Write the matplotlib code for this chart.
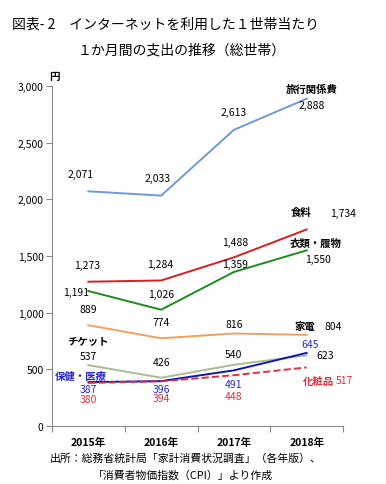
import matplotlib
matplotlib.use('Agg')
import matplotlib.pyplot as plt

plt.rcParams['font.family'] = ['Noto Sans CJK JP', 'DejaVu Sans']

years = ['2015年', '2016年', '2017年', '2018年']
travel = [2071, 2033, 2613, 2888]
food = [1273, 1284, 1488, 1734]
clothes = [1191, 1026, 1359, 1550]
appliance = [889, 774, 816, 804]
ticket = [537, 426, 540, 623]
health = [387, 396, 491, 645]
cosmetics = [380, 394, 448, 517]

# (values, colour, linestyle, label offsets in px for each point, label colour)
series = [
    (travel, '#6f98dc', '-', [(-8, 17), (-4, 18), (0, 18), (5, -6)], 'black'),
    (food, '#d42020', '-', [(-1, 17), (-1, 16), (1, 15), None], 'black'),
    (clothes, '#1f8a1f', '-', [(-12, -1), (0, 16), (1, 8), (11, -9)], 'black'),
    (appliance, '#f0a060', '-', [(0, 16), (0, 16), (0, 10), None], 'black'),
    (ticket, '#a9bc94', '-', [(0, 9), (0, 16), (0, 11), (18, 0)], 'black'),
    (health, '#1414b4', '-', [(0, -7), (0, -8), (0, -14), (3, 9)], '#2828c8'),
    (cosmetics, '#e03040', '--', [(0, -16), (0, -17), (0, -21), None], '#e03040'),
]

fig = plt.figure(figsize=(3.86, 4.85), dpi=100)
ax = fig.add_axes([0.1347, 0.1196, 0.754, 0.701])

x = range(len(years))
for vals, col, ls, offs, tcol in series:
    ax.plot(x, vals, color=col, ls=ls, lw=1.4)
    for i, v in enumerate(vals):
        if offs[i] is None:
            continue
        ax.annotate(f'{v:,}', (i, v), xytext=offs[i], textcoords='offset pixels',
                    ha='center', va='center', fontsize=7.5, color=tcol)

# series names / end labels
def name(i, v, dx, dy, s, col='black', ha='center'):
    ax.annotate(s, (i, v), xytext=(dx, dy), textcoords='offset pixels',
                ha=ha, va='center', fontsize=7.5, color=col, fontweight='bold')

name(3, travel[3], 5, 10, '旅行関係費')
name(3, food[3], -6, 18, '食料')
ax.annotate(f'{food[3]:,}', (3, food[3]), xytext=(36, 16), textcoords='offset pixels',
            ha='center', va='center', fontsize=7.5)
name(3, clothes[3], 9, 7, '衣類・履物')
name(3, appliance[3], -2, 9, '家電')
ax.annotate(f'{appliance[3]:,}', (3, appliance[3]), xytext=(27, 9), textcoords='offset pixels',
            ha='center', va='center', fontsize=7.5)
name(0, ticket[0], 0, 24, 'チケット')
name(0, health[0], -8, 6, '保健・医療', col='#2828c8')
name(3, cosmetics[3], 12, -13, '化粧品', col='#e03040')
ax.annotate(f'{cosmetics[3]:,}', (3, cosmetics[3]), xytext=(38, -13), textcoords='offset pixels',
            ha='center', va='center', fontsize=7.5, color='#e03040')

ax.set_xlim(-0.5, 3.5)
ax.set_ylim(0, 3000)
ax.set_yticks(range(0, 3001, 500))
ax.set_yticklabels([f'{t:,}' for t in range(0, 3001, 500)], fontsize=7.5)
ax.set_xticks([-0.5, 0.5, 1.5, 2.5, 3.5])
ax.set_xticklabels([])
ax.set_xticks(list(x), minor=True)
ax.set_xticklabels(years, minor=True, fontsize=7.5, fontweight='bold')
ax.tick_params(axis='x', which='minor', length=0, pad=8)
ax.tick_params(axis='both', which='major', color='#888888', length=4)
ax.tick_params(axis='y', pad=2)
for s in ['top', 'right']:
    ax.spines[s].set_visible(False)
for s in ['left', 'bottom']:
    ax.spines[s].set_color('#888888')

fig.text(54 / 386, 1 - 77 / 485, '円', ha='center', va='center',
         fontsize=7.5, fontweight='bold')

fig.text(12 / 386, 1 - 25 / 485, '図表- 2　インターネットを利用した１世帯当たり',
         ha='left', va='center', fontsize=10)
fig.text(78 / 386, 1 - 50 / 485, '１か月間の支出の推移（総世帯）',
         ha='left', va='center', fontsize=10)
fig.text(50 / 386, 1 - 459 / 485, '出所：総務省統計局「家計消費状況調査」（各年版）、',
         ha='left', va='center', fontsize=7.8)
fig.text(93 / 386, 1 - 475 / 485, '「消費者物価指数（CPI）」より作成',
         ha='left', va='center', fontsize=7.8)

fig.savefig('out.png', dpi=100)
